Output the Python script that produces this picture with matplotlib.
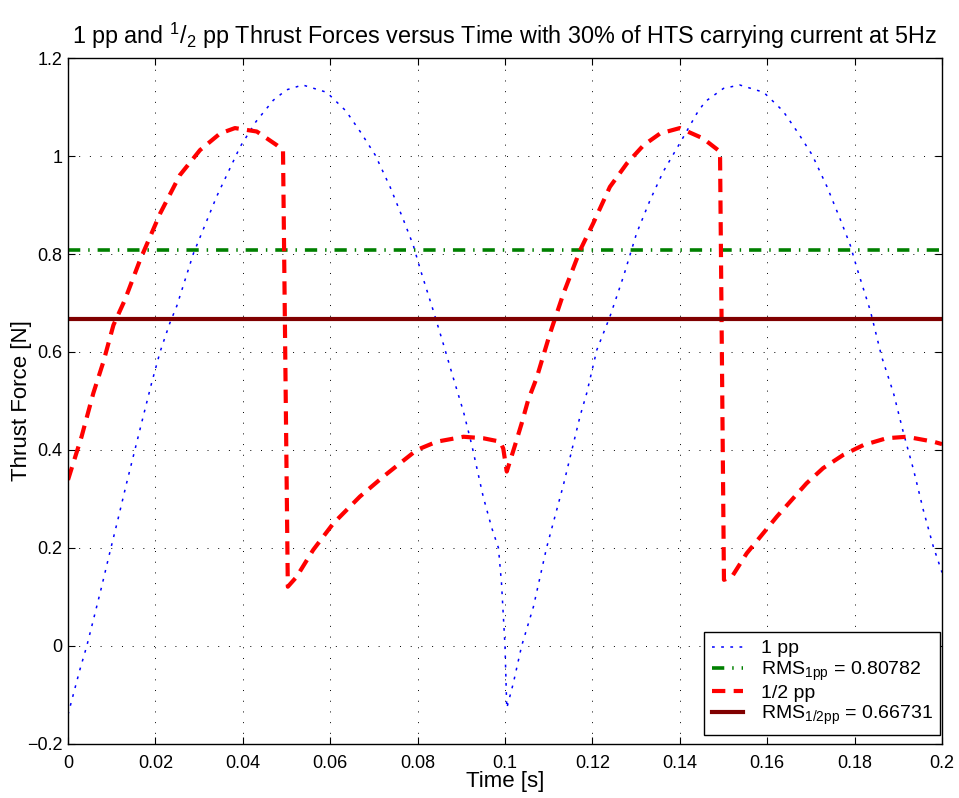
# -*- coding: utf-8 -*-
# thrust forces of 1 pp and 1/2 pp versus time, 30% of HTS carrying current at 5Hz

import numpy as np
import matplotlib
matplotlib.use('Agg')
import matplotlib.pyplot as plt
from matplotlib.ticker import FuncFormatter

plt.rcParams['font.family'] = ['Liberation Sans', 'DejaVu Sans']
plt.rcParams['mathtext.fontset'] = 'custom'
plt.rcParams['mathtext.rm'] = 'Liberation Sans'
plt.rcParams['mathtext.it'] = 'Liberation Sans'

# 1 pp thrust force
t_1pp = [0.0000, 0.0016, 0.0027, 0.0043, 0.0058, 0.0077, 0.0096, 0.0115, 0.0134,
         0.0153, 0.0172, 0.0192, 0.0211, 0.0233, 0.0249, 0.0287, 0.0340, 0.0394,
         0.0430, 0.0470, 0.0500, 0.0537, 0.0592, 0.0636, 0.0670, 0.0703, 0.0737,
         0.0767, 0.0790, 0.0806, 0.0836, 0.0859, 0.0882, 0.0905, 0.0924, 0.0950,
         0.0970, 0.0985, 0.0992, 0.1000, 0.1004, 0.1019, 0.1038, 0.1065, 0.1095,
         0.1134, 0.1153, 0.1172, 0.1187, 0.1210, 0.1240, 0.1271, 0.1301, 0.1332,
         0.1362, 0.1400, 0.1439, 0.1458, 0.1500, 0.1537, 0.1592, 0.1636, 0.1670,
         0.1703, 0.1737, 0.1767, 0.1790, 0.1806, 0.1836, 0.1862, 0.1889, 0.1912,
         0.1935, 0.1957, 0.1980, 0.2000]
f_1pp = [-0.140, -0.086, -0.049, 0.000, 0.053, 0.121, 0.192, 0.261, 0.332,
         0.400, 0.468, 0.539, 0.601, 0.659, 0.694, 0.801, 0.917, 1.019,
         1.070, 1.114, 1.135, 1.145, 1.130, 1.092, 1.048, 1.002, 0.937,
         0.871, 0.818, 0.769, 0.684, 0.616, 0.546, 0.478, 0.410, 0.305,
         0.240, 0.200, 0.128, 0.000, -0.127, -0.076, 0.000, 0.080, 0.200,
         0.330, 0.400, 0.470, 0.516, 0.604, 0.672, 0.754, 0.842, 0.910,
         0.968, 1.026, 1.087, 1.111, 1.138, 1.145, 1.130, 1.092, 1.048,
         1.002, 0.937, 0.871, 0.818, 0.769, 0.684, 0.590, 0.516, 0.434,
         0.359, 0.278, 0.203, 0.150]

# 1/2 pp thrust force
t_half = [0.0000, 0.0031, 0.0058, 0.0081, 0.0104, 0.0130, 0.0165, 0.0211, 0.0256,
          0.0302, 0.0348, 0.0382, 0.0432, 0.0478, 0.0492, 0.0503, 0.0523, 0.0561,
          0.0607, 0.0668, 0.0722, 0.0798, 0.0844, 0.0905, 0.0950, 0.0989, 0.0996,
          0.1004, 0.1023, 0.1038, 0.1053, 0.1072, 0.1103, 0.1134, 0.1172, 0.1202,
          0.1240, 0.1279, 0.1317, 0.1355, 0.1400, 0.1453, 0.1492, 0.1501, 0.1519,
          0.1553, 0.1588, 0.1622, 0.1656, 0.1690, 0.1728, 0.1774, 0.1820, 0.1873,
          0.1919, 0.1980, 0.2000]
f_half = [0.339, 0.427, 0.516, 0.580, 0.655, 0.706, 0.788, 0.883, 0.961,
          1.012, 1.046, 1.057, 1.050, 1.022, 1.012, 0.121, 0.141, 0.196,
          0.250, 0.305, 0.346, 0.400, 0.417, 0.427, 0.424, 0.417, 0.403,
          0.356, 0.410, 0.454, 0.502, 0.546, 0.638, 0.720, 0.808, 0.863,
          0.937, 0.985, 1.022, 1.046, 1.057, 1.036, 1.009, 0.135, 0.141,
          0.189, 0.227, 0.264, 0.298, 0.332, 0.363, 0.390, 0.410, 0.424,
          0.427, 0.417, 0.412]

rms_1pp = 0.80782
rms_half = 0.66731

x_ticks = [0, 0.02, 0.04, 0.06, 0.08, 0.1, 0.12, 0.14, 0.16, 0.18, 0.2]
y_ticks = [-0.2, 0, 0.2, 0.4, 0.6, 0.8, 1.0, 1.2]

fig = plt.figure(figsize=(9.59, 7.98), dpi=100)
ax = fig.add_axes([0.0709, 0.0677, 0.9114, 0.8596])

ax.plot(t_1pp, f_1pp, color='blue', linestyle=(0, (1.8, 4.2)), linewidth=1.1, label='1 pp')
ax.axhline(rms_1pp, color='#008000', linestyle=(0, (3.4, 2.2, 0.4, 2.2)), linewidth=2.6,
           label=r'RMS$_{\mathregular{1pp}}$ = %.5f' % rms_1pp)
ax.plot(t_half, f_half, color='red', linestyle=(0, (3.2, 2.0)), linewidth=3.0, label='1/2 pp')
ax.axhline(rms_half, color='#800000', linestyle='-', linewidth=3.0,
           label=r'RMS$_{\mathregular{1/2pp}}$ = %.5f' % rms_half)

fmt = FuncFormatter(lambda v, p: ('%g' % v).replace('-', '\u2212'))
ax.set_xlim(0, 0.2)
ax.set_ylim(-0.2, 1.2)
ax.set_xticks(x_ticks)
ax.set_yticks(y_ticks)
ax.xaxis.set_major_formatter(fmt)
ax.yaxis.set_major_formatter(fmt)
ax.tick_params(direction='in', top=True, right=True, length=5, width=0.8, labelsize=13)
ax.tick_params(axis='x', pad=8)
ax.tick_params(axis='y', pad=4)
ax.grid(True, color='black', linestyle=(0, (1, 10)), linewidth=0.7)
for s in ax.spines.values():
    s.set_linewidth(1.0)

ax.set_xlabel('Time [s]', fontsize=16, labelpad=-1)
ax.set_ylabel('Thrust Force [N]', fontsize=16, labelpad=-4)
ax.set_title(r'1 pp and $\mathregular{^1/_2}$ pp Thrust Forces versus Time with 30% of HTS carrying current at 5Hz',
             fontsize=16.8, pad=10)

leg = ax.legend(loc='lower right', bbox_to_anchor=(0.998, 0.013), borderaxespad=0,
                fontsize=14, fancybox=False, framealpha=1, edgecolor='black',
                labelspacing=0.1, handlelength=1.6, handletextpad=0.9, borderpad=0.4)
leg.get_frame().set_linewidth(1.0)

plt.savefig('out.png', dpi=100)
